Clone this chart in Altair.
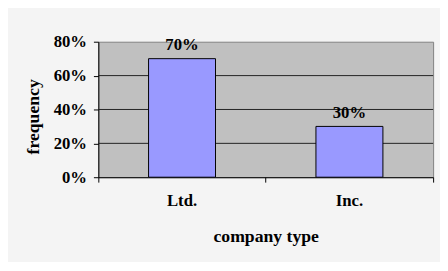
import altair as alt
import pandas as pd

categories = ["Ltd.", "Inc."]
frequency = [0.70, 0.30]
y_ticks = [0, 0.2, 0.4, 0.6, 0.8]
grid_lines = [0.2, 0.4, 0.6]

df = pd.DataFrame({"company type": categories, "frequency": frequency})
grid_df = pd.DataFrame({"frequency": grid_lines})

FONT = "Liberation Serif"

x = alt.X(
    "company type:N",
    sort=categories,
    scale=alt.Scale(paddingInner=0, paddingOuter=0),
    axis=alt.Axis(
        title="company type",
        labelAngle=0,
        labelFont=FONT, labelFontSize=17, labelFontWeight="bold", labelColor="black",
        labelPadding=11,
        titleFont=FONT, titleFontSize=18, titleFontWeight="bold", titleColor="black",
        titleBaseline="alphabetic", titleY=65,
        bandPosition=1, tickExtra=True,
        tickSize=5, tickColor="black", domainColor="black",
        grid=False,
    ),
)
y = alt.Y(
    "frequency:Q",
    scale=alt.Scale(domain=[0, 0.8], nice=False),
    axis=alt.Axis(
        title="frequency",
        format=".0%",
        values=y_ticks,
        labelOverlap=False,
        labelFont=FONT, labelFontSize=17, labelFontWeight="bold", labelColor="black",
        labelPadding=7,
        titleFont=FONT, titleFontSize=18, titleFontWeight="bold", titleColor="black",
        titleX=-57, titleY=76,
        tickSize=5, tickColor="black", domainColor="black",
        grid=False,
    ),
)

grid = alt.Chart(grid_df).mark_rule(color="#222222", strokeWidth=1).encode(y=y)

base = alt.Chart(df).encode(x=x, y=y)

bars = base.mark_bar(
    width=alt.RelativeBandSize(0.4), color="#9999ff", stroke="black", strokeWidth=1
)

labels = base.mark_text(
    font=FONT, fontSize=17, fontWeight="bold", color="black", baseline="alphabetic", dy=-9
).encode(text=alt.Text("frequency:Q", format=".0%"))

chart = alt.layer(grid, bars, labels).properties(
    width=341, height=138,
    autosize=alt.AutoSizeParams(type="none"),
    padding={"left": 92, "top": 32, "right": 7, "bottom": 84},
    background="#f4f4f4",
).configure_view(fill="#c0c0c0", stroke="#808080", strokeWidth=1)

chart.save("out.html", embed_options={"renderer": "svg", "actions": False})
